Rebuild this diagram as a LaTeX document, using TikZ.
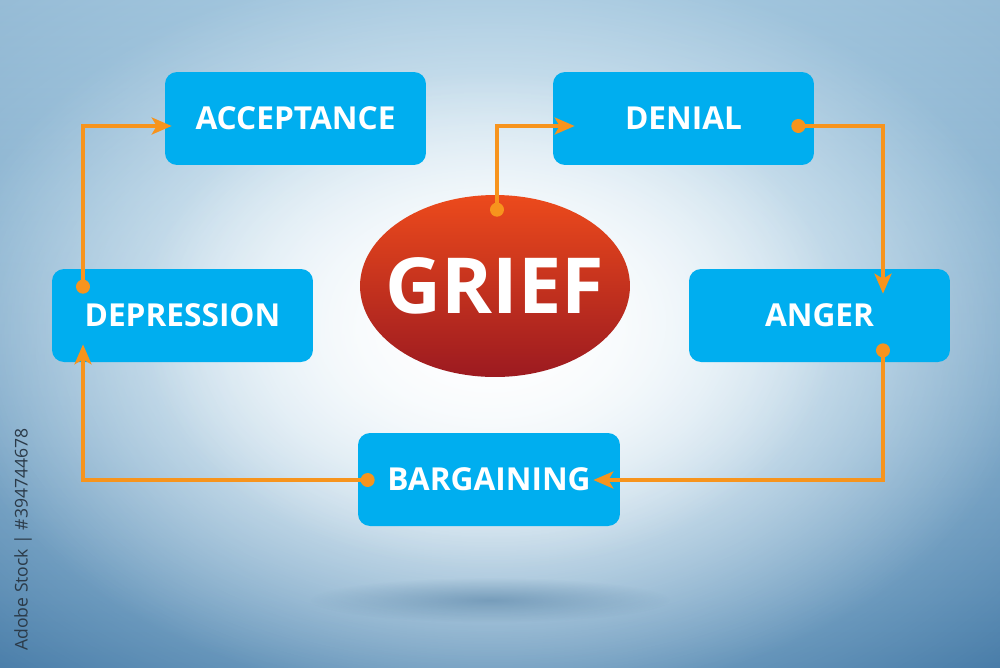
\documentclass[tikz,border=0pt]{standalone}
\usepackage{fontspec}
\setmainfont{Open Sans}
\usetikzlibrary{arrows.meta,calc,fadings,shapes.geometric}
\definecolor{boxblue}{HTML}{00AEEF}
\definecolor{arrorange}{HTML}{F7941D}
\definecolor{gtop}{HTML}{EC4A1C}
\definecolor{gbot}{HTML}{9C1A20}
\definecolor{bgtop}{HTML}{93B9D4}
\definecolor{bgmid}{HTML}{7DA9CA}
\definecolor{bgbot}{HTML}{4378A5}
\definecolor{bgcyan}{HTML}{C6E5F5}
\definecolor{bgdark}{HTML}{3E6E95}
\definecolor{wmtext}{HTML}{2B3A48}
\tikzfading[name=softglow, inner color=transparent!0, outer color=transparent!100]
\tikzset{
  stage/.style={fill=boxblue, rounded corners=0.24cm, minimum width=5.22cm, minimum height=1.86cm,
    text=white, font=\fontsize{18}{20}\selectfont\bfseries, inner sep=0pt},
  griefnode/.style={ellipse, top color=gtop, bottom color=gbot, minimum width=5.4cm, minimum height=3.64cm,
    text=white, font=\fontsize{44}{48}\selectfont\bfseries, inner sep=0pt},
  conn/.style={draw=arrorange, line width=0.07cm, line join=miter,
    -{Stealth[length=0.4cm,width=0.34cm,inset=0.1cm]}},
  dot/.style={fill=arrorange}
}
\begin{document}
\begin{tikzpicture}[x=0.02cm,y=-0.02cm]
\useasboundingbox (0,0) rectangle (1000,667);
\begin{scope}
  \clip (0,0) rectangle (1000,667);
  \shade[top color=bgtop, middle color=bgmid, bottom color=bgbot] (0,0) rectangle (1000,667);
  \fill[bgcyan, path fading=softglow] (490,330) ellipse [x radius=15cm, y radius=10cm];
  \fill[white, path fading=softglow] (490,330) ellipse [x radius=11cm, y radius=7.5cm];
  \fill[white, path fading=softglow] (490,320) ellipse [x radius=7cm, y radius=5cm];
  \fill[bgdark, opacity=0.45, path fading=softglow] (490,600) ellipse [x radius=3.6cm, y radius=0.45cm];
\end{scope}

\node[stage] (acc) at (295.5,118.5) {ACCEPTANCE};
\node[stage] (den) at (683.5,118.5) {DENIAL};
\node[stage] (dep) at (182.5,315.5) {DEPRESSION};
\node[stage] (ang) at (819.5,315.5) {ANGER};
\node[stage, minimum width=5.24cm] (bar) at (489,479.5) {BARGAINING};
\node[griefnode] (grief) at (495,286) {\makebox[0pt]{GRIEF}};

\coordinate (s1) at ($(grief.north)+(2,15)$);
\coordinate (e1) at ($(den.west)+(22,7.5)$);
\coordinate (s2) at ($(den.east)+(-16,7.5)$);
\coordinate (e2) at ($(ang.north)+(63.5,25)$);
\coordinate (s3) at ($(ang.south)+(63.5,-12)$);
\coordinate (e3) at ($(bar.east)+(-27,0.5)$);
\coordinate (s4) at ($(bar.west)+(10,0.5)$);
\coordinate (e4) at ($(dep.south)+(-99.5,-18)$);
\coordinate (s5) at ($(dep.north)+(-99.5,18)$);
\coordinate (e5) at ($(acc.west)+(7,7.5)$);

\draw[conn] (s1) |- (e1);
\draw[conn] (s2) -| (e2);
\draw[conn] (s3) |- (e3);
\draw[conn] (s4) -| (e4);
\draw[conn] (s5) |- (e5);

\foreach \p in {s1,s2,s3,s4,s5} \fill[dot] (\p) circle[radius=0.14cm];

\node[rotate=90, anchor=east, text=wmtext, font=\fontsize{10}{11}\selectfont, inner sep=0pt] (wm) at (23,428) {Adobe Stock | \#394744678};
\end{tikzpicture}
\end{document}
